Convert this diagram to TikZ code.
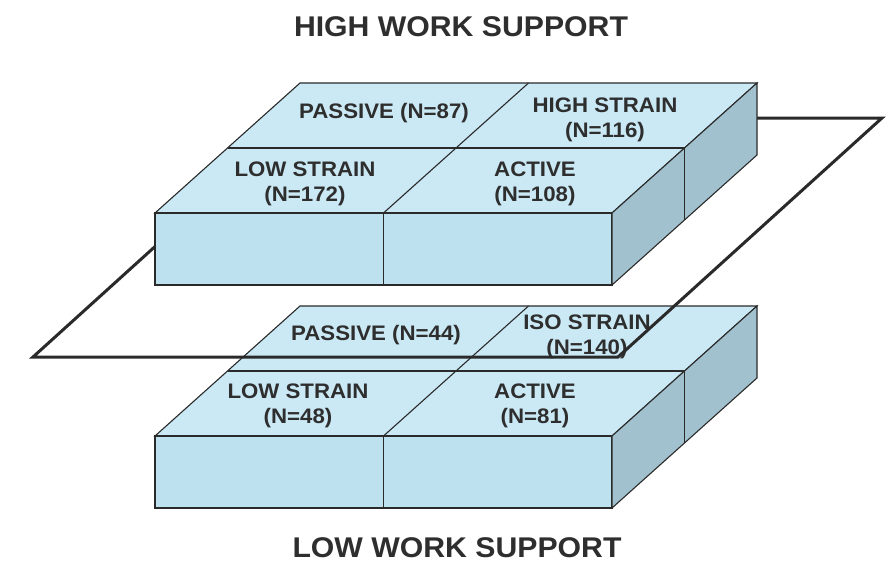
\documentclass[tikz,border=0pt]{standalone}
\usepackage{fontspec}
\setmainfont{Liberation Sans}[FakeStretch=1.06]
\definecolor{frontblue}{HTML}{BDE1EF}
\definecolor{topblue}{HTML}{CAE9F5}
\definecolor{sideblue}{HTML}{A2C1CE}
\definecolor{edgegray}{HTML}{2A2A2A}
\definecolor{inkgray}{HTML}{2E2E2E}

% One slab of four cells: front face, top face and right side face.
% #1 = vertical offset, #2 = prefix for the corner names
\newcommand{\cellslab}[2]{%
  \begin{scope}[shift={(0,#1)}]
    \coordinate (#2fl)  at (155,213);
    \coordinate (#2fr)  at (612,213);
    \coordinate (#2bl)  at (300,83);
    \coordinate (#2br)  at (757,83);
    \coordinate (#2frb) at (612,285);
    \coordinate (#2brb) at (757,155);
    \coordinate (#2ml)  at (227.5,148);
    \coordinate (#2mr)  at (684.5,148);
    \coordinate (#2mrb) at (684.5,220);
    \coordinate (#2fc)  at (383.5,213);
    \coordinate (#2fcb) at (383.5,285);
    \coordinate (#2bc)  at (528.5,83);
    % top face
    \filldraw[topface] (#2fl) -- (#2fr) -- (#2br) -- (#2bl) -- cycle;
    \draw[edgeline] (#2ml) -- (#2mr);
    \draw[edgeline] (#2fc) -- (#2bc);
    % front face
    \filldraw[frontface] (#2fl) rectangle (#2frb);
    \draw[edgeline] (#2fc) -- (#2fcb);
    % right side face
    \filldraw[sideface] (#2fr) -- (#2br) -- (#2brb) -- (#2frb) -- cycle;
    \draw[edgeline] (#2mr) -- (#2mrb);
  \end{scope}}

\begin{document}
\begin{tikzpicture}[x=1pt,y=-1pt,
  edgeline/.style={draw=edgegray,line width=1.1pt,line join=miter},
  topface/.style={edgeline,fill=topblue},
  frontface/.style={edgeline,fill=frontblue},
  sideface/.style={edgeline,fill=sideblue},
  planeline/.style={draw=edgegray,line width=3pt,line join=miter},
  celltext/.style={font=\bfseries\fontsize{21}{25}\selectfont,text=inkgray,align=center,inner sep=0pt},
  titletext/.style={font=\bfseries\fontsize{28.5}{32}\selectfont,text=inkgray,inner sep=0pt}]
  \useasboundingbox (0,0) rectangle (887,562);

  % titles
  \node[titletext] (hightitle) at (461,27) {HIGH WORK SUPPORT};
  \node[titletext] (lowtitle)  at (457,548) {LOW WORK SUPPORT};

  % lower slab
  \cellslab{223}{lo}
  \node[celltext] (lopassive) at (376,335) {PASSIVE (N=44)};
  \node[celltext] (loiso)     at (587,337) {ISO STRAIN\\(N=140)};
  \node[celltext] (lolow)     at (298,406) {LOW STRAIN\\(N=48)};
  \node[celltext] (loactive)  at (535,406) {ACTIVE\\(N=81)};

  % dividing plane between the two slabs
  \coordinate (pbl) at (33,357);
  \coordinate (pbr) at (618,357);
  \coordinate (ptr) at (882,118);
  \coordinate (ptl) at (297,118);
  \draw[planeline] (pbl) -- (pbr) -- (ptr) -- (ptl) -- cycle;

  % upper slab
  \cellslab{0}{up}
  \node[celltext] (uppassive) at (384,113) {PASSIVE (N=87)};
  \node[celltext] (uphigh)    at (605,120) {HIGH STRAIN\\(N=116)};
  \node[celltext] (uplow)     at (305,184) {LOW STRAIN\\(N=172)};
  \node[celltext] (upactive)  at (535,184) {ACTIVE\\(N=108)};
\end{tikzpicture}
\end{document}
